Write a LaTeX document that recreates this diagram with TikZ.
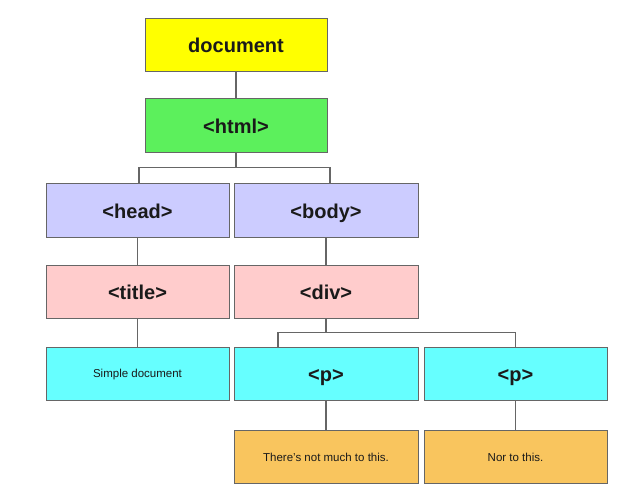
\documentclass[tikz,border=0pt]{standalone}
\usepackage{fontspec}
\setmainfont{Liberation Sans}
\definecolor{cyellow}{HTML}{FFFF00}
\definecolor{cgreen}{HTML}{5CF05C}
\definecolor{clav}{HTML}{CCCCFF}
\definecolor{cpink}{HTML}{FFCCCC}
\definecolor{ccyan}{HTML}{66FFFF}
\definecolor{corange}{HTML}{F9C55E}
\definecolor{cline}{HTML}{666666}
\definecolor{ctext}{HTML}{1A1A1A}
\begin{document}
\begin{tikzpicture}[x=1pt,y=-1pt,
  box/.style={draw=cline,line width=1pt,minimum width=183pt,minimum height=53pt,inner sep=0pt,text=ctext},
  big/.style={font=\bfseries\fontsize{20}{24}\selectfont,text height=16.5pt,text depth=0pt},
  small/.style={font=\fontsize{11.5}{14}\selectfont,text height=9pt,text depth=0.5pt},
  link/.style={draw=cline,line width=1.1pt}]
\useasboundingbox[fill=white] (0,0) rectangle (623,501);
\node[box,big,fill=cyellow,minimum width=182pt] (doc) at (236,44.5) {document};
\node[box,big,fill=cgreen,minimum width=182pt,minimum height=54pt] (html) at (236,125) {<html>};
\node[box,big,fill=clav,minimum height=54pt] (head) at (137.5,210) {<head>};
\node[box,big,fill=clav,minimum width=184pt,minimum height=54pt] (body) at (326,210) {<body>};
\node[box,big,fill=cpink] (title) at (137.5,291.5) {<title>};
\node[box,big,fill=cpink,minimum width=184pt] (div) at (326,291.5) {<div>};
\node[box,small,fill=ccyan] (simple) at (137.5,373.5) {Simple document};
\node[box,big,fill=ccyan,minimum width=184pt] (p1) at (326,373.5) {<p>};
\node[box,big,fill=ccyan] (p2) at (515.5,373.5) {<p>};
\node[box,small,fill=corange,minimum width=184pt] (there) at (326,457) {There's not much to this.};
\node[box,small,fill=corange] (nor) at (515.5,457) {Nor to this.};
% connectors
\draw[link] (doc.south) -- (html.north);
\draw[link] (html.south) -- ++(0,15) coordinate (hb);
\draw[link] ([xshift=1.5pt]head.north) -- ([xshift=1.5pt]head.north |- hb) -- ([xshift=4pt]body.north |- hb) -- ([xshift=4pt]body.north);
\draw[link] (head.south) -- (title.north);
\draw[link] (body.south) -- (div.north);
\draw[link] (title.south) -- (simple.north);
\draw[link] (div.south) -- ++(0,14) coordinate (db);
\draw[link] ([xshift=-48pt]p1.north) -- ([xshift=-48pt]p1.north |- db) -- (p2.north |- db) -- (p2.north);
\draw[link] (p1.south) -- (there.north);
\draw[link] (p2.south) -- (nor.north);
\end{tikzpicture}
\end{document}
